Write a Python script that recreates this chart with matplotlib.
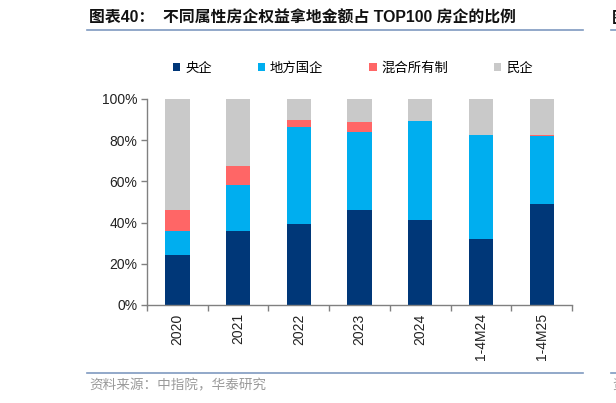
import matplotlib
matplotlib.use("Agg")
import matplotlib.pyplot as plt
from matplotlib.patches import Patch
from matplotlib.lines import Line2D
import numpy as np

plt.rcParams['font.family'] = ['Liberation Sans', 'Noto Sans CJK SC', 'DejaVu Sans']

categories = ["2020", "2021", "2022", "2023", "2024", "1-4M24", "1-4M25"]
central_soe = [24.5, 35.9, 39.3, 46.1, 41.3, 31.9, 49.1]
local_soe = [11.4, 22.4, 47.3, 37.8, 47.8, 50.8, 32.8]
mixed = [10.4, 9.2, 3.0, 4.7, 0.4, 0.0, 0.4]
private = [round(100 - a - b - c, 1) for a, b, c in zip(central_soe, local_soe, mixed)]
series_names = ["央企", "地方国企", "混合所有制", "民企"]
colors = ["#003778", "#00AEEF", "#FF6666", "#C9C9C9"]
yticks = [0, 20, 40, 60, 80, 100]

fig = plt.figure(figsize=(6.16, 4.03), dpi=100)
ax = fig.add_axes([147/616, 1 - 305/403, (572 - 147)/616, (305 - 99)/403])

x = np.arange(len(categories))
bottom = np.zeros(len(categories))
for vals, col in zip([central_soe, local_soe, mixed, private], colors):
    ax.bar(x, vals, width=0.4, bottom=bottom, color=col, edgecolor='none', zorder=2)
    bottom += np.array(vals)

ax.set_xlim(-0.5, len(categories) - 0.5)
ax.set_ylim(0, 100)
ax.set_yticks(yticks)
ax.set_yticklabels([f"{v}%" for v in yticks], fontsize=10, color="#222222")
ax.set_xticks(x)
ax.set_xticklabels(categories, rotation=90, fontsize=10, color="#222222")
ax.tick_params(axis='x', length=0, pad=6)
ax.set_xticks(np.arange(-0.5, len(categories)), minor=True)
ax.tick_params(axis='x', which='minor', length=4, color="#808080", width=1)
ax.tick_params(axis='y', length=4, color="#808080", width=1, pad=3)
for s in ['top', 'right']:
    ax.spines[s].set_visible(False)
for s in ['left', 'bottom']:
    ax.spines[s].set_color("#808080")
    ax.spines[s].set_linewidth(1)

# Title and rules
fig.text(89/616, 1 - 18/403, "图表40：  不同属性房企权益拿地金额占 TOP100 房企的比例",
         fontsize=11.4, fontweight='bold', va='center', ha='left',
         family=['Liberation Sans', 'Noto Sans CJK SC'], color="#111111")
fig.add_artist(Line2D([87/616, 583/616], [1 - 29.5/403, 1 - 29.5/403], color="#7F9AC0", lw=1.2))
fig.add_artist(Line2D([611/616, 1.0], [1 - 29.5/403, 1 - 29.5/403], color="#7F9AC0", lw=1.2))
fig.text(612/616, 1 - 18/403, "图", fontsize=11.4, fontweight='bold', va='center', ha='left',
         family=['Noto Sans CJK SC'], color="#111111")

# Legend
handles = [Patch(facecolor=c, edgecolor='none') for c in colors]
fig.legend(handles, series_names, loc='center left', bbox_to_anchor=(173/616, 1 - 67.5/403),
           ncol=4, frameon=False, handlelength=0.55, handleheight=0.55,
           handletextpad=0.35, columnspacing=3.45, borderpad=0, borderaxespad=0,
           prop={'family': ['Noto Sans CJK SC'], 'size': 9.6})

# Bottom rule and source
fig.add_artist(Line2D([87/616, 583/616], [1 - 373/403, 1 - 373/403], color="#7F9AC0", lw=1.2))
fig.add_artist(Line2D([611/616, 1.0], [1 - 373/403, 1 - 373/403], color="#7F9AC0", lw=1.2))
fig.text(89/616, 1 - 385/403, "资料来源：中指院，华泰研究", fontsize=9.8, va='center', ha='left',
         family=['Noto Sans CJK SC'], color="#9A9A9A")
fig.text(612/616, 1 - 385/403, "资", fontsize=9.8, va='center', ha='left',
         family=['Noto Sans CJK SC'], color="#9A9A9A")

fig.savefig("out.png", dpi=100)
